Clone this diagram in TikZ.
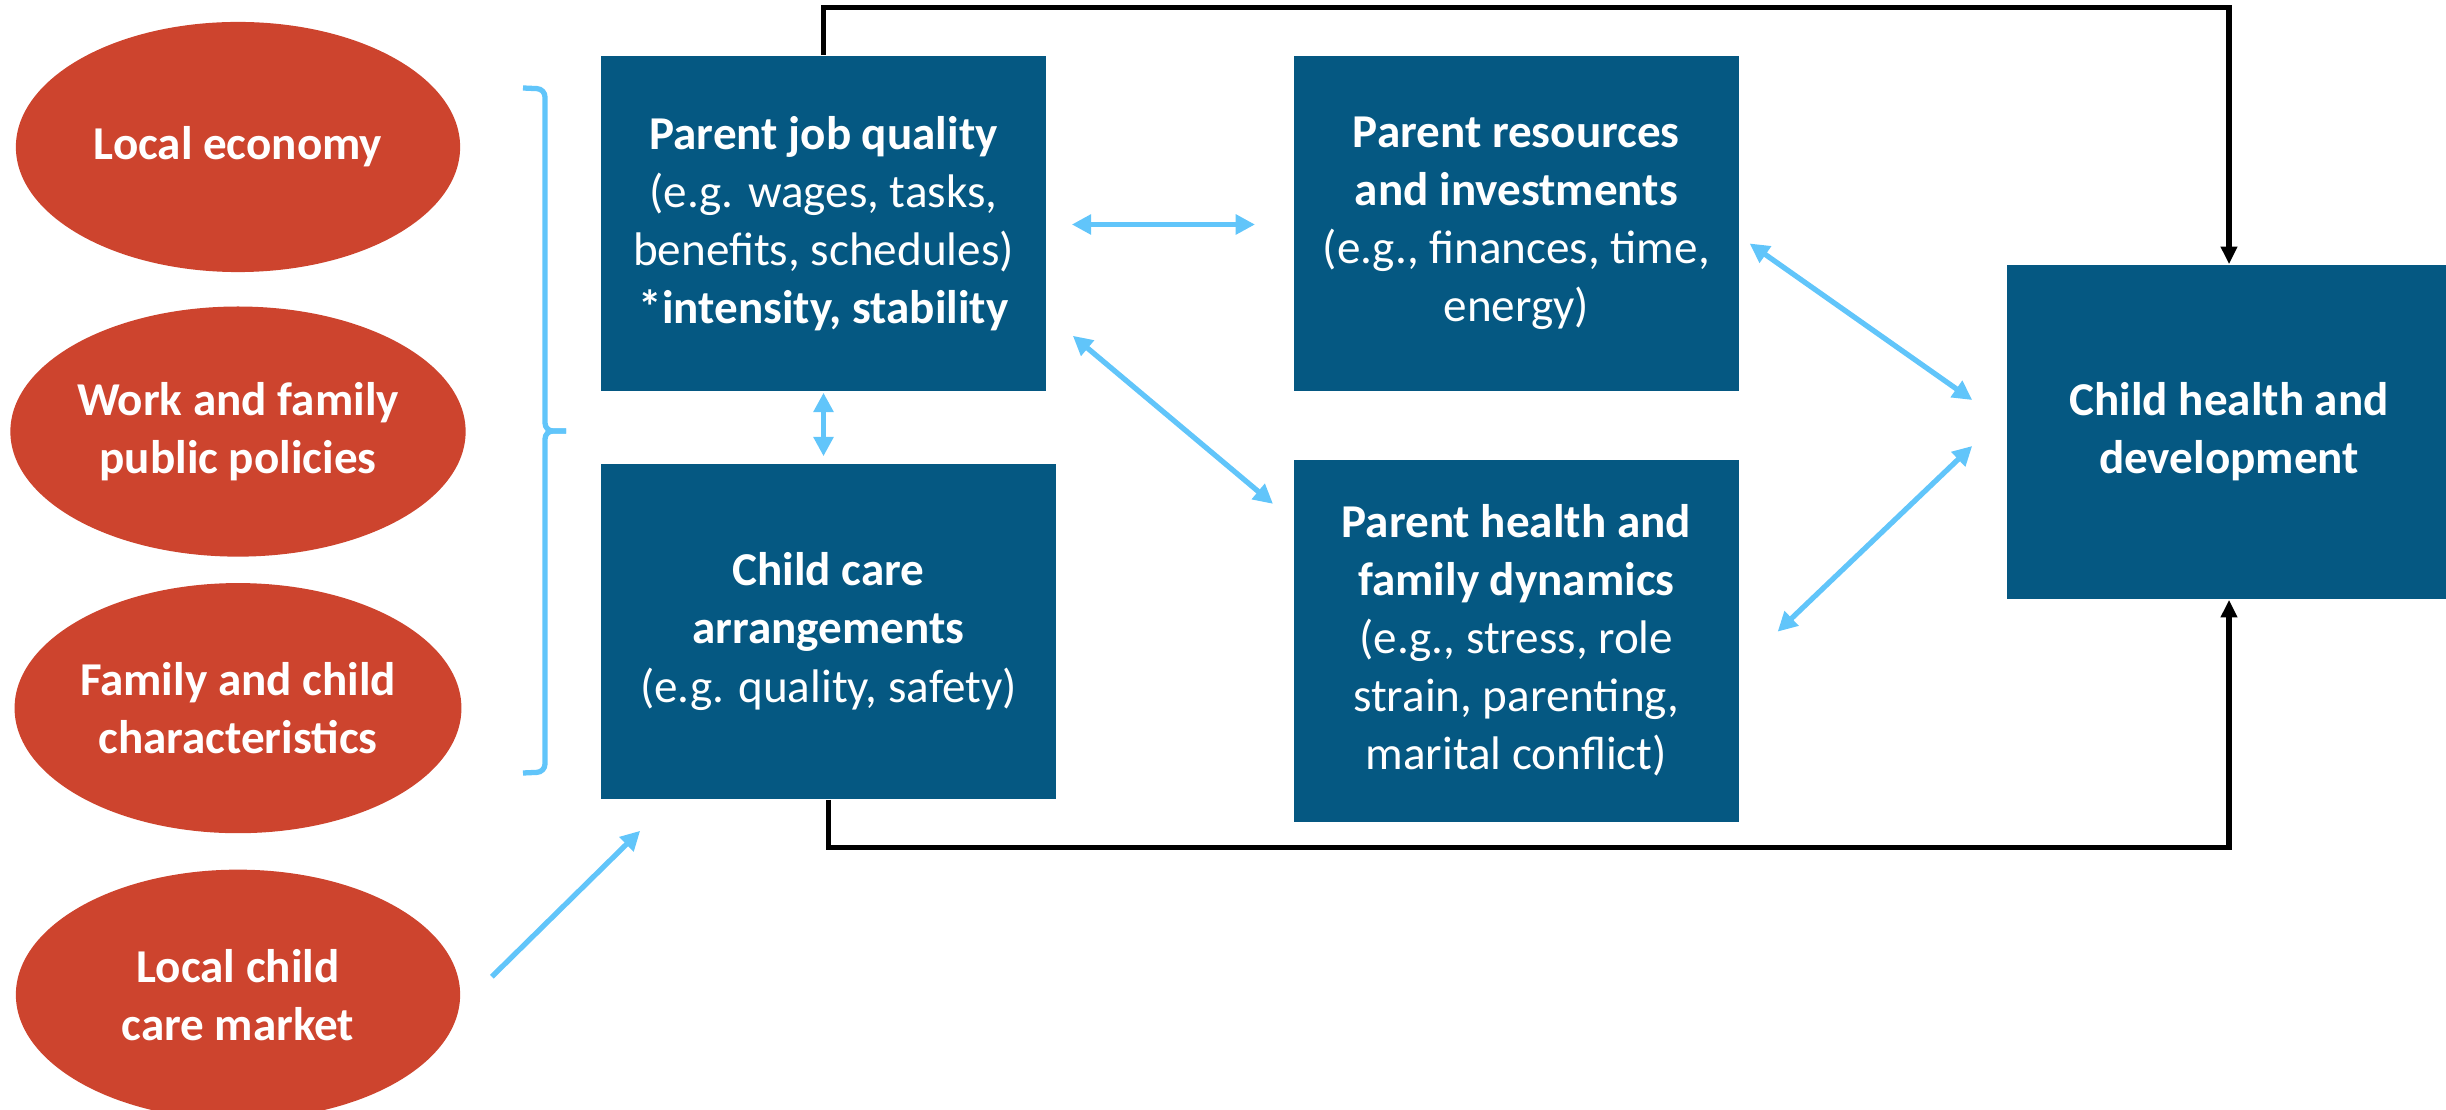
\documentclass[tikz,border=0pt]{standalone}
\usepackage{fontspec}
\setmainfont{Carlito}
\usepackage{tikz}
\usetikzlibrary{arrows.meta,positioning,calc,shapes.geometric}
\definecolor{boxblue}{RGB}{5,88,130}
\definecolor{ovalred}{RGB}{205,68,46}
\definecolor{linkblue}{RGB}{97,197,250}
\tikzset{
  factor/.style={ellipse,fill=ovalred,text=white,minimum width=4.44cm,minimum height=2.5cm,inner sep=0pt,align=center,font=\fontsize{13.4}{16.5}\selectfont\bfseries},
  block/.style={rectangle,fill=boxblue,text=white,minimum width=4.45cm,minimum height=3.35cm,inner sep=0pt,align=center,font=\fontsize{13.4}{16.5}\selectfont},
  link/.style={{Triangle[length=5.5pt,width=5.5pt]}-{Triangle[length=5.5pt,width=5.5pt]},line width=1.5pt,draw=linkblue},
  push/.style={-{Triangle[length=5.5pt,width=5.5pt]},line width=1.5pt,draw=linkblue},
  feed/.style={-{Triangle[length=5pt,width=4.5pt]},line width=1.5pt}
}

\begin{document}
\begin{tikzpicture}[x=0.01cm,y=-0.01cm]
  \useasboundingbox (0,0) rectangle (2446,1110);
  % context ovals
  \node[factor] (econ) at (238,147) {Local economy};
  \node[factor, below=0.33cm of econ] (policy) {Work and family\\public policies};
  \node[factor, below=0.25cm of policy] (famchar) {Family and child\\characteristics};
  \node[factor, below=0.35cm of famchar] (market) {Local child\\care market};
  % boxes
  \node[block] (job) at (823.5,223.5) {{\bfseries Parent job quality}\\(e.g. wages, tasks,\\benefits, schedules)\\{\bfseries *intensity, stability}};
  \node[block, minimum width=4.55cm] (care) at (828.5,631.5) {{\bfseries Child care}\\{\bfseries arrangements}\\(e.g. quality, safety)};
  \node[block, right=2.46cm of job] (res) {{\bfseries Parent resources}\\{\bfseries and investments}\\(e.g., finances, time,\\energy)};
  \node[block, below=0.67cm of res, minimum height=3.62cm] (fam) {{\bfseries Parent health and}\\{\bfseries family dynamics}\\(e.g., stress, role\\strain, parenting,\\marital conflict)};
  \node[block, minimum width=4.44cm, minimum height=3.34cm] (child) at (2229,432) {{\bfseries Child health and}\\{\bfseries development}};
  % bracket
  \draw[linkblue, line width=1.5pt, rounded corners=0.08cm] (523,88) -- (545,89) -- (545,431) -- (566,431);
  \draw[linkblue, line width=1.5pt, rounded corners=0.08cm] (566,431) -- (545,431) -- (545,772) -- (523,773);
  % links
  \draw[link] ($(job.east)+(25,1)$) -- ($(res.west)+(-38,1)$);
  \draw[link, shorten <=0.01cm, shorten >=0.07cm] (job.south) -- (job.south |- care.north);
  \draw[link] ($(job.south east)+(26,-56)$) -- ($(fam.north west)+(-20,45)$);
  \draw[link] ($(res.east)+(10,20)$) -- ($(child.west)+(-34,-32)$);
  \draw[link] ($(fam.east)+(38,-9)$) -- ($(child.west)+(-34,14)$);
  \draw[push] ($(market.east)+(31,-18)$) -- ($(care.south west)+(40,31)$);
  % feedback paths
  \draw[feed] (job.north) -- ++(0,-47.5) -| (child.north);
  \draw[feed] (care.south) -- ++(0,48) -| (child.south);
\end{tikzpicture}
\end{document}
